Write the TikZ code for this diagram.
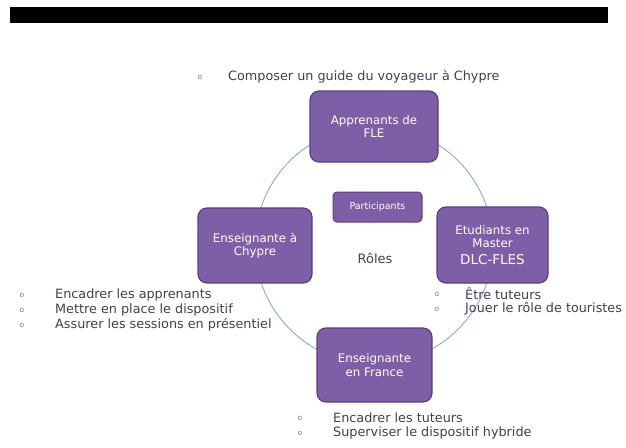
\documentclass[tikz,border=0pt]{standalone}
\usepackage{fontspec}
\setmainfont{DejaVu Sans}
\definecolor{boxfill}{RGB}{126,94,166}
\definecolor{boxborder}{RGB}{92,64,128}
\definecolor{ringblue}{RGB}{132,170,210}
\definecolor{itemtext}{RGB}{68,62,84}
\definecolor{bulletgray}{RGB}{120,116,130}
\begin{document}
\begin{tikzpicture}[x=1pt,y=-1pt,
  role/.style={draw=boxborder, line width=1.2pt, fill=boxfill, rounded corners=9pt,
    text=white, align=center, font=\fontsize{11.8}{13.5}\selectfont, inner sep=0pt},
  item/.style={anchor=west, text=itemtext, font=\fontsize{12.8}{14}\selectfont, inner sep=0pt},
  bul/.style={text=bulletgray, font=\fontsize{7.5}{8}\selectfont, inner sep=0pt}]
\useasboundingbox (0,0) rectangle (626,447);
\fill[black] (10,7) rectangle (608,23);
\draw[ringblue, line width=0.9pt] (374,245) circle (119pt);
% boxes
\node[role, minimum width=128pt, minimum height=71pt] (app) at (374,126.5) {Apprenants de\\FLE};
\node[role, minimum width=114pt, minimum height=75pt] (ensc) at (255,245.5) {Enseignante à\\Chypre};
\node[role, minimum width=111pt, minimum height=76pt] (etu) at (492.5,245) {Etudiants en\\Master\\[3pt]{\fontsize{13.5}{15}\selectfont DLC-FLES}};
\node[role, minimum width=115pt, minimum height=74pt] (ensf) at (374.5,365) {Enseignante\\en France};
\node[role, rounded corners=4pt, line width=1pt, minimum width=89pt, minimum height=30pt,
  font=\fontsize{9.5}{11}\selectfont] (part) at (377.5,207) {Participants};
\node[text=itemtext, font=\fontsize{13}{14}\selectfont, inner sep=0pt] (roles) at (375,258) {Rôles};
% top list
\node[bul] (b1) at (200,77) {o};
\node[item] (t1) at (228,77) {Composer un guide du voyageur à Chypre};
% left list
\node[bul] (b2) at (22,295) {o};
\node[item] (t2) at (55,295) {Encadrer les apprenants};
\node[bul] (b3) at (22,310) {o};
\node[item] (t3) at (55,310) {Mettre en place le dispositif};
\node[bul] (b4) at (22,325) {o};
\node[item] (t4) at (55,325) {Assurer les sessions en présentiel};
% right list
\node[bul] (b5) at (437,294) {o};
\node[item] (t5) at (465,294) {Être tuteurs};
\node[bul] (b6) at (437,309) {o};
\node[item] (t6) at (465,309) {Jouer le rôle de touristes};
% bottom list
\node[bul] (b7) at (300,418) {o};
\node[item] (t7) at (333,418) {Encadrer les tuteurs};
\node[bul] (b8) at (300,433) {o};
\node[item] (t8) at (333,433) {Superviser le dispositif hybride};
\end{tikzpicture}
\end{document}
